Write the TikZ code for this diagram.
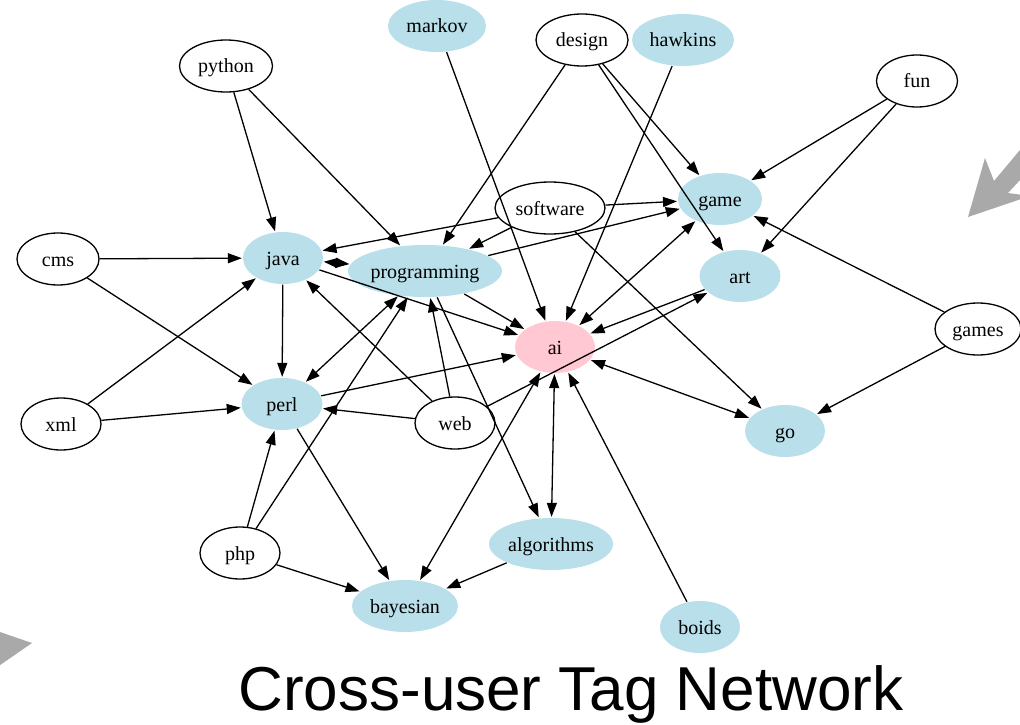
\documentclass[tikz,border=0pt]{standalone}
\usepackage{fontspec}
\setmainfont{Liberation Serif}
\newfontfamily\titlefont{Liberation Sans}
\usetikzlibrary{shapes.geometric,arrows.meta}
\definecolor{lb}{HTML}{B8DFEA}
\definecolor{pk}{HTML}{FFC8D2}
\definecolor{arrgray}{HTML}{A9A9A9}
\tikzset{
  tag/.style={ellipse, draw=black, line width=1.3pt, fill=white, minimum height=52pt, minimum width=80pt, inner sep=0pt, text height=16pt, text depth=2pt, font=\fontsize{20}{24}\selectfont},
  blue/.style={tag, draw=none, fill=lb},
  pinkn/.style={tag, draw=none, fill=pk},
  ed/.style={-{Triangle[length=14pt,width=10pt]}, line width=1.3pt, shorten >=0.5pt},
  eed/.style={{Triangle[length=14pt,width=10pt]}-{Triangle[length=14pt,width=10pt]}, line width=1.3pt, shorten >=0.5pt, shorten <=0.5pt},
  bigarrow/.style={fill=arrgray, draw=none}
}
\begin{document}
\begin{tikzpicture}[x=1pt,y=-1pt]
\useasboundingbox (0,0) rectangle (1020,725);
\begin{scope}
\clip (0,0) rectangle (1020,725);
\fill[bigarrow] (968,217) -- (985,158) -- (994,181) -- (1030,138) -- (1046,152) -- (1008,193) -- (1030,196) -- cycle;
\fill[bigarrow] (-10,628.6) -- (32,643) -- (-10,672) -- cycle;
\end{scope}
% nodes
\node[blue, minimum width=98pt] (markov) at (437,26) {markov};
\node[tag, minimum width=92pt] (design) at (582,40) {design};
\node[blue, minimum width=102pt] (hawkins) at (683,40) {hawkins};
\node[tag, minimum width=93pt] (python) at (226,66) {python};
\node[tag, minimum width=81pt] (fun) at (917,81) {fun};
\node[tag, minimum width=110pt] (software) at (550,208) {software};
\node[blue, minimum width=84pt] (game) at (720,199) {game};
\node[tag, minimum width=82pt] (cms) at (58,259) {cms};
\node[blue] (java) at (283,258) {java};
\node[blue, minimum width=151pt] (programming) at (425,271) {programming};
\node[blue, minimum width=81pt] (art) at (740,276) {art};
\node[pinkn] (ai) at (555,347) {ai};
\node[tag, minimum width=86pt] (games) at (978,329) {games};
\node[blue, minimum width=81pt] (perl) at (282,404) {perl};
\node[tag] (xml) at (61,424) {xml};
\node[tag] (web) at (455,423) {web};
\node[blue] (go) at (785,431) {go};
\node[tag] (php) at (240,553) {php};
\node[blue, minimum width=124pt] (algorithms) at (551,544) {algorithms};
\node[blue, minimum width=106pt] (bayesian) at (405,606) {bayesian};
\node[blue] (boids) at (700,627) {boids};
% edges
\draw[ed] (python) -- (java);
\draw[ed] (python) -- (programming);
\draw[ed] (markov) -- (ai);
\draw[ed] (design) -- (programming);
\draw[ed] (design) -- (game);
\draw[ed] (design) -- (art);
\draw[ed] (hawkins) -- (ai);
\draw[ed] (fun) -- (game);
\draw[ed] (fun) -- (art);
\draw[ed] (software) -- (java);
\draw[ed] (software) -- (programming);
\draw[ed] (software) -- (game);
\draw[ed] (software) -- (go);
\draw[ed] (cms) -- (java);
\draw[ed] (cms) -- (perl);
\draw[ed] (xml) -- (java);
\draw[ed] (xml) -- (perl);
\draw[eed] (java) -- (programming);
\draw[ed] (java) -- (ai);
\draw[ed] (java) -- (perl);
\draw[ed] (programming) -- (ai);
\draw[ed] (programming) -- (game);
\draw[eed] (programming) -- (perl);
\draw[ed] (programming) -- (algorithms);
\draw[ed] (perl) -- (ai);
\draw[ed] (perl) -- (bayesian);
\draw[ed] (web) -- (perl);
\draw[ed] (web) -- (java);
\draw[ed] (web) -- (programming);
\draw[ed] (web) -- (art);
\draw[ed] (php) -- (perl);
\draw[ed] (php) -- (programming);
\draw[ed] (php) -- (bayesian);
\draw[eed] (ai) -- (game);
\draw[ed] (art) -- (ai);
\draw[eed] (ai) -- (go);
\draw[eed] (ai) -- (algorithms);
\draw[eed] (ai) -- (bayesian);
\draw[ed] (boids) -- (ai);
\draw[ed] (games) -- (game);
\draw[ed] (games) -- (go);
\draw[ed] (algorithms) -- (bayesian);
% title
\node[anchor=base, font=\titlefont\fontsize{62}{70}\selectfont, inner sep=0pt] (title) at (571,710) {Cross-user Tag Network};
\end{tikzpicture}
\end{document}
